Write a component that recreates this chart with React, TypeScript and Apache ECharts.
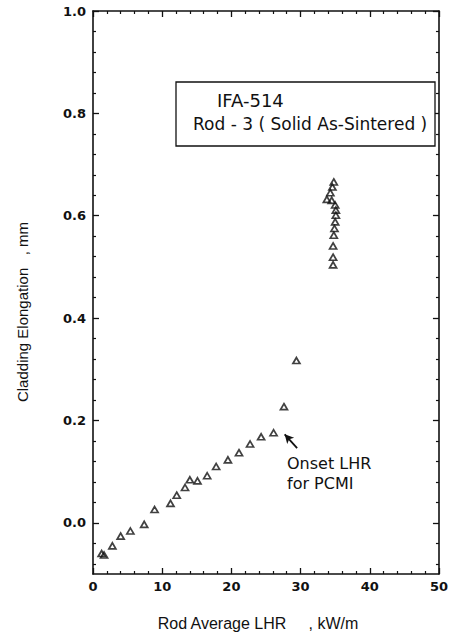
import React, { useEffect, useRef } from "react";
import * as echarts from "echarts";

// Rod average linear heat rating (kW/m) and cladding elongation (mm)
const lhr = [
  1.25, 1.6, 2.8, 4.0, 5.4, 7.4, 8.9, 11.2, 12.1, 13.3, 14.0, 15.1, 16.5, 17.8,
  19.5, 21.1, 22.7, 24.3, 26.1, 27.6, 29.4,
  34.8, 34.6, 34.3, 33.8, 34.5, 35.0, 35.1, 35.1, 35.0, 34.9, 34.8, 34.7, 34.7, 34.7,
];
const elongation = [
  -0.06, -0.063, -0.045, -0.026, -0.016, -0.003, 0.026, 0.038, 0.054, 0.069, 0.084,
  0.082, 0.092, 0.11, 0.123, 0.137, 0.154, 0.168, 0.176, 0.227, 0.317,
  0.666, 0.656, 0.645, 0.632, 0.63, 0.621, 0.611, 0.601, 0.588, 0.575, 0.562, 0.541,
  0.519, 0.504,
];

const yMajorTicks = [0.0, 0.2, 0.4, 0.6, 0.8, 1.0];
const yMinorTicks = [
  -0.08, -0.04, 0.04, 0.08, 0.12, 0.16, 0.24, 0.28, 0.32, 0.36, 0.44, 0.48, 0.52,
  0.56, 0.64, 0.68, 0.72, 0.76, 0.84, 0.88, 0.92, 0.96,
];

const boxTitle = "IFA-514";
const boxSubtitle = "Rod - 3 ( Solid As-Sintered )";
const onsetLines = ["Onset LHR", "for PCMI"];
const xName = "Rod Average LHR     , kW/m";
const yName = "Cladding Elongation   , mm";

// Where the "onset" arrow sits, in data units (tail -> tip)
const arrowTail = [29.5, 0.146];
const arrowTip = [27.7, 0.173];

const INK = "#111";
const labelFont = "DejaVu Sans";
const textFont = "Liberation Sans";
const boxFont = "DejaVu Sans";

export default function App() {
  const ref = useRef<HTMLDivElement>(null);

  useEffect(() => {
    if (!ref.current) return;
    const chart = echarts.init(ref.current, null, { renderer: "svg" });

    const axisLine = { show: true, onZero: false, lineStyle: { color: INK, width: 1.6 } };
    const baseX = {
      type: "value",
      min: 0,
      max: 50,
      interval: 10,
      axisLine,
      axisTick: { show: true, inside: true, length: 6, lineStyle: { color: INK, width: 1.3 } },
      minorTick: { show: true, splitNumber: 5, length: 3, lineStyle: { color: INK, width: 1.2 } },
      splitLine: { show: false },
      minorSplitLine: { show: false },
    };
    const yMajor = (position: string, showLabel: boolean) => ({
      type: "value",
      position,
      min: -0.1,
      max: 1.0,
      axisLine,
      axisTick: {
        show: true,
        inside: true,
        length: 6,
        customValues: yMajorTicks,
        lineStyle: { color: INK, width: 1.3 },
      },
      axisLabel: {
        show: showLabel,
        customValues: yMajorTicks,
        formatter: (v: number) => v.toFixed(1),
        color: INK,
        fontFamily: labelFont,
        fontWeight: "bold",
        fontSize: 13,
        margin: 7,
      },
      splitLine: { show: false },
    });
    const yMinor = (position: string) => ({
      type: "value",
      position,
      min: -0.1,
      max: 1.0,
      axisLine: { show: false, onZero: false },
      axisTick: {
        show: true,
        inside: true,
        length: 3,
        customValues: yMinorTicks,
        lineStyle: { color: INK, width: 1.2 },
      },
      axisLabel: { show: false },
      splitLine: { show: false },
    });

    chart.setOption({
      animation: false,
      backgroundColor: "#fff",
      grid: { left: 93, right: 10, top: 11, bottom: 64, containLabel: false },
      xAxis: [
        {
          ...baseX,
          position: "bottom",
          axisLabel: {
            color: INK,
            fontFamily: labelFont,
            fontWeight: "bold",
            fontSize: 13,
            margin: 6,
          },
        },
        { ...baseX, position: "top", axisLabel: { show: false } },
      ],
      yAxis: [yMajor("left", true), yMajor("right", false), yMinor("left"), yMinor("right")],
      series: [
        {
          type: "scatter",
          xAxisIndex: 0,
          yAxisIndex: 0,
          symbol: "triangle",
          symbolSize: [7, 6],
          itemStyle: { color: "transparent", borderColor: INK, borderWidth: 1.7 },
          data: lhr.map((x, i) => [x, elongation[i]]),
          markLine: {
            silent: true,
            symbol: ["none", "arrow"],
            symbolSize: [7, 9],
            label: { show: false },
            lineStyle: { color: INK, width: 1.8, type: "solid" },
            data: [[{ coord: arrowTail }, { coord: arrowTip }]],
          },
        },
      ],
      graphic: [
        {
          type: "rect",
          shape: { x: 176, y: 82, width: 259, height: 64 },
          style: { fill: "#fff", stroke: INK, lineWidth: 1.3 },
          z: 10,
        },
        {
          type: "text",
          x: 217,
          y: 100,
          z: 11,
          style: {
            text: boxTitle,
            fill: INK,
            font: `18px "${boxFont}"`,
            textVerticalAlign: "middle",
          },
        },
        {
          type: "text",
          x: 193,
          y: 124,
          z: 11,
          style: {
            text: boxSubtitle,
            fill: INK,
            font: `17px "${boxFont}"`,
            textVerticalAlign: "middle",
          },
        },
        {
          type: "text",
          x: 287,
          y: 463,
          z: 11,
          style: {
            text: onsetLines[0],
            fill: INK,
            font: `16px "${boxFont}"`,
            textVerticalAlign: "middle",
          },
        },
        {
          type: "text",
          x: 287,
          y: 483,
          z: 11,
          style: {
            text: onsetLines[1],
            fill: INK,
            font: `16px "${boxFont}"`,
            textVerticalAlign: "middle",
          },
        },
        {
          type: "text",
          x: 258,
          y: 623,
          z: 11,
          style: {
            text: xName,
            fill: INK,
            font: `16px "${textFont}"`,
            textAlign: "center",
            textVerticalAlign: "middle",
          },
        },
        {
          type: "text",
          x: 22,
          y: 312,
          rotation: Math.PI / 2,
          z: 11,
          style: {
            text: yName,
            fill: INK,
            font: `15px "${textFont}"`,
            textAlign: "center",
            textVerticalAlign: "middle",
          },
        },
      ],
    });

    return () => chart.dispose();
  }, []);

  return (
    <div
      ref={ref}
      style={{ position: "fixed", left: 0, top: 0, width: 451, height: 638, background: "#fff" }}
    />
  );
}
